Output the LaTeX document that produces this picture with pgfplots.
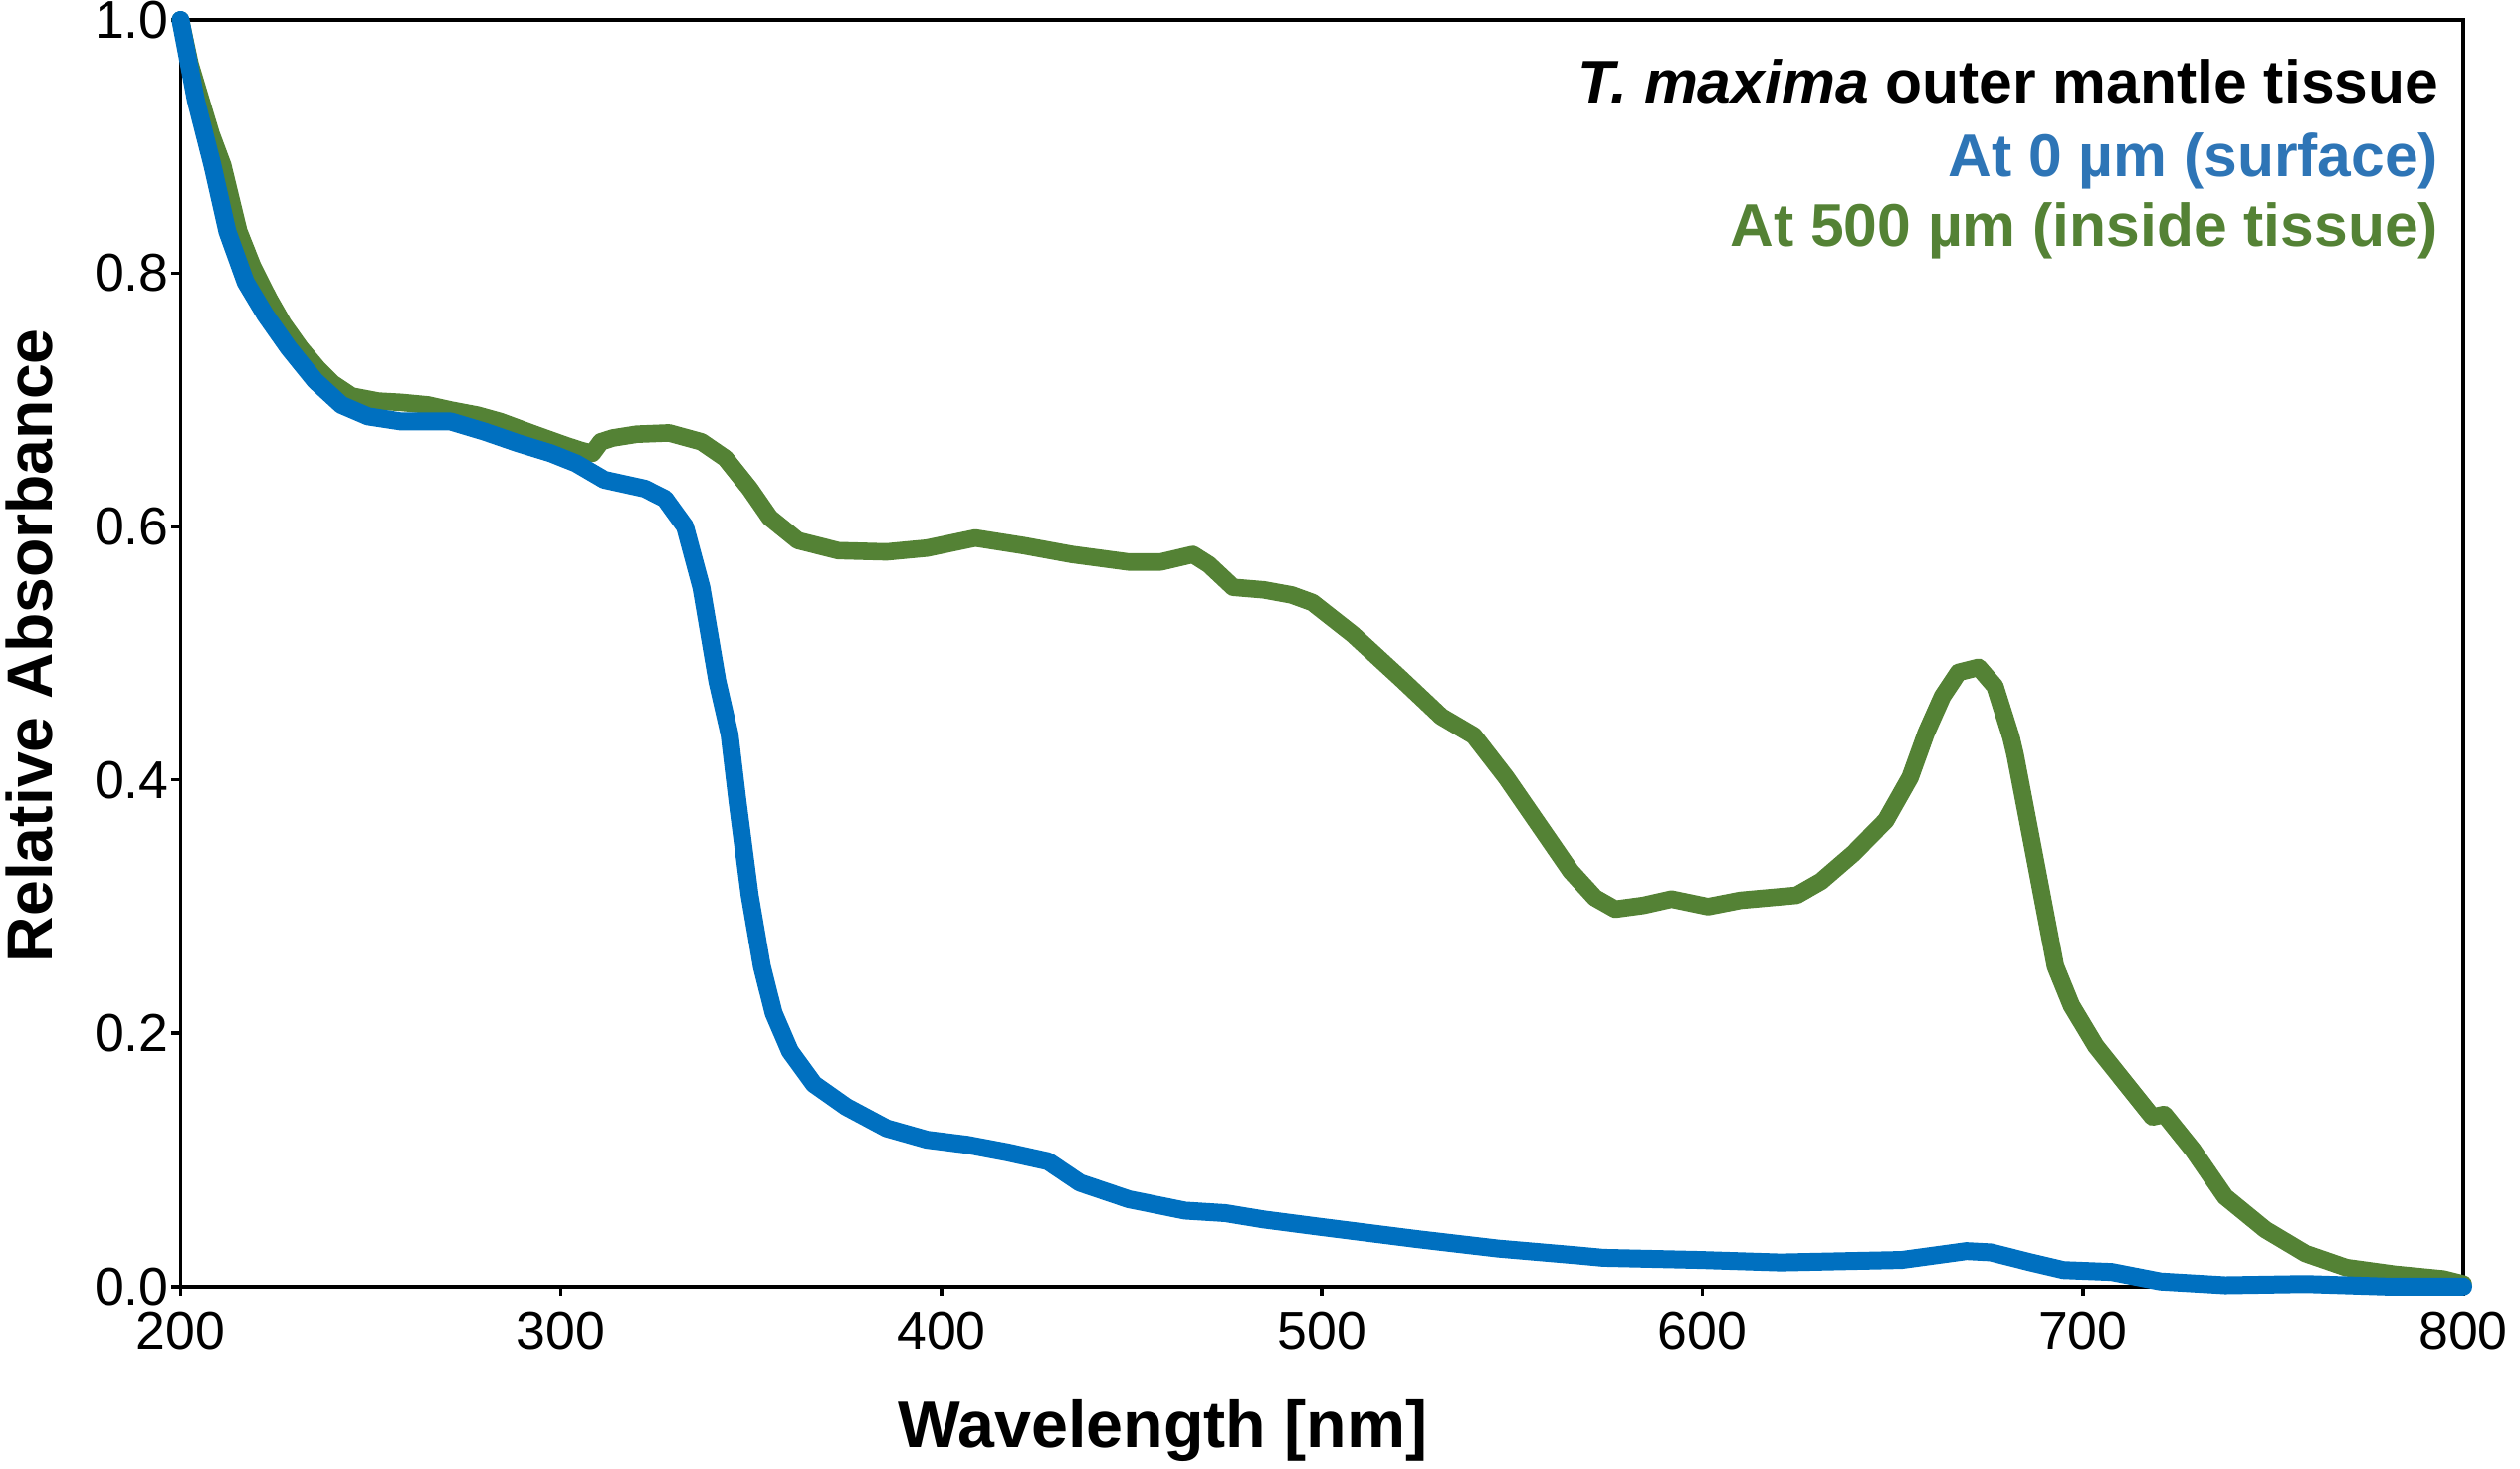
\documentclass[border=0pt]{standalone}
\usepackage{fontspec}
\setmainfont{Liberation Sans}
\usepackage{pgfplots}
\pgfplotsset{compat=1.18}
\definecolor{lblue}{HTML}{0070C0}
\definecolor{lgreen}{HTML}{548235}
\definecolor{tblue}{HTML}{2E75B6}
\begin{document}
\begin{tikzpicture}
\begin{axis}[
  width=573.5pt, height=318.25pt, scale only axis,
  xmin=200, xmax=800, ymin=0, ymax=1,
  xtick={200,300,400,500,600,700,800},
  ytick={0,0.2,0.4,0.6,0.8,1.0},
  tick align=outside, xtick pos=bottom, ytick pos=left,
  major tick length=2.25pt,
  axis line style={line width=0.9pt},
  tick style={line width=0.9pt, black},
  /pgf/number format/assume math mode=true,
  ticklabel style={font=\fontsize{13.4}{16}\selectfont},
  yticklabel style={/pgf/number format/fixed, /pgf/number format/fixed zerofill, /pgf/number format/precision=1, inner sep=0.5pt},
  xticklabel style={inner sep=3.8pt},
  xlabel={Wavelength [nm]},
  ylabel={Relative Absorbance},
  xlabel style={at={(axis description cs:0.4303,-0.0889)}, anchor=north, inner sep=0pt, font=\fontsize{16.6}{20}\selectfont\bfseries},
  ylabel style={at={(axis description cs:-0.0768,0.506)}, anchor=north, inner sep=0pt, font=\fontsize{16.1}{19}\selectfont\bfseries},
  clip=false,
]
\coordinate (bl) at (rel axis cs:0,0);
\coordinate (tr) at (rel axis cs:1,1);
% green: at 500 um
\addplot[color=lgreen, line width=4.4pt, line cap=round, line join=round] coordinates {
(200,1.0) (202.5,0.965) (205.3,0.937) (208,0.91) (211.1,0.885) (215.3,0.833) (219,0.805)
(223.2,0.780) (227,0.760) (231.5,0.741) (236,0.725) (240,0.713) (245,0.703) (252,0.699)
(258,0.698) (265,0.696) (271,0.692) (278,0.688) (284,0.683) (293,0.673) (301.4,0.664)
(305.5,0.660) (308.3,0.658) (310.5,0.667) (313.6,0.670) (319.9,0.673) (328.4,0.674)
(336.9,0.667) (343.2,0.654) (349.6,0.630) (354.9,0.607) (362.3,0.589) (372.9,0.581)
(385.6,0.580) (396.2,0.583) (408.9,0.591) (421.6,0.585) (434.3,0.578) (449.2,0.572)
(457.6,0.572) (466.1,0.578) (470.3,0.570) (476.7,0.552) (484.7,0.550) (492,0.546) (497.5,0.540)
(508.1,0.515) (520.8,0.480) (531.4,0.450) (539.9,0.435) (548.4,0.402) (556.9,0.365)
(565.4,0.328) (571.8,0.307) (577.1,0.298) (584.5,0.301) (591.9,0.306) (601.5,0.300)
(610,0.305) (624.8,0.309) (631.2,0.320) (639.7,0.342) (648.2,0.368) (654.6,0.402)
(658.8,0.437) (663.1,0.466) (667.3,0.485) (672.6,0.489) (676.9,0.474) (681.1,0.434)
(682.2,0.420) (686.4,0.354) (692.8,0.253) (697,0.222) (703.4,0.190) (711.9,0.158)
(718.3,0.134) (721.4,0.136) (728.9,0.108) (737.4,0.071) (748,0.045) (758.6,0.026)
(769.2,0.015) (782,0.0097) (794.7,0.006) (800,0.002)
};
% blue: at 0 um
\addplot[color=lblue, line width=4.5pt, line cap=round, line join=round] coordinates {
(200,1.0) (204,0.937) (208.4,0.885) (212.3,0.833) (217.1,0.793) (222.3,0.767)
(228.4,0.741) (235.4,0.715) (242.3,0.696) (249.3,0.687) (258,0.683) (271,0.683)
(279.9,0.675) (288.6,0.666) (297.3,0.658) (304,0.650) (311.4,0.637) (322,0.630) (327.3,0.622)
(332.6,0.600) (336.9,0.552) (341.1,0.478) (344.3,0.436) (346.4,0.383) (349.6,0.309)
(352.8,0.253) (355.9,0.216) (360.2,0.186) (366.5,0.160) (375,0.142) (385.6,0.125)
(396.2,0.116) (406.8,0.112) (417.4,0.106) (428,0.099) (436.4,0.082) (449.2,0.069)
(464,0.060) (474.6,0.058) (484.7,0.053) (500,0.047) (525,0.0375) (546.3,0.030)
(567.5,0.0245) (573.9,0.0227) (599.4,0.021) (620.6,0.019) (652.4,0.021) (660.9,0.0245)
(669.4,0.028) (675.8,0.027) (686.4,0.019) (694.9,0.013) (707.6,0.0115) (720.4,0.004)
(737.4,0.001) (758.6,0.002) (779.8,0.0) (800,0.0)
};
\node[anchor=base east, inner sep=0pt, font=\fontsize{15.15}{18}\selectfont\bfseries] at (axis description cs:0.9895,0.934) {\textit{T. maxima} outer mantle tissue};
\node[anchor=base east, inner sep=0pt, text=tblue, font=\fontsize{15.15}{18}\selectfont\bfseries] at (axis description cs:0.9895,0.876) {At 0 µm (surface)};
\node[anchor=base east, inner sep=0pt, text=lgreen, font=\fontsize{15.15}{18}\selectfont\bfseries] at (axis description cs:0.9895,0.821) {At 500 µm (inside tissue)};
\end{axis}
\pgfresetboundingbox
\path[use as bounding box] ([xshift=-45.35pt,yshift=-45.75pt]bl) rectangle ([xshift=14.25pt,yshift=5pt]tr);
\end{tikzpicture}
\end{document}
